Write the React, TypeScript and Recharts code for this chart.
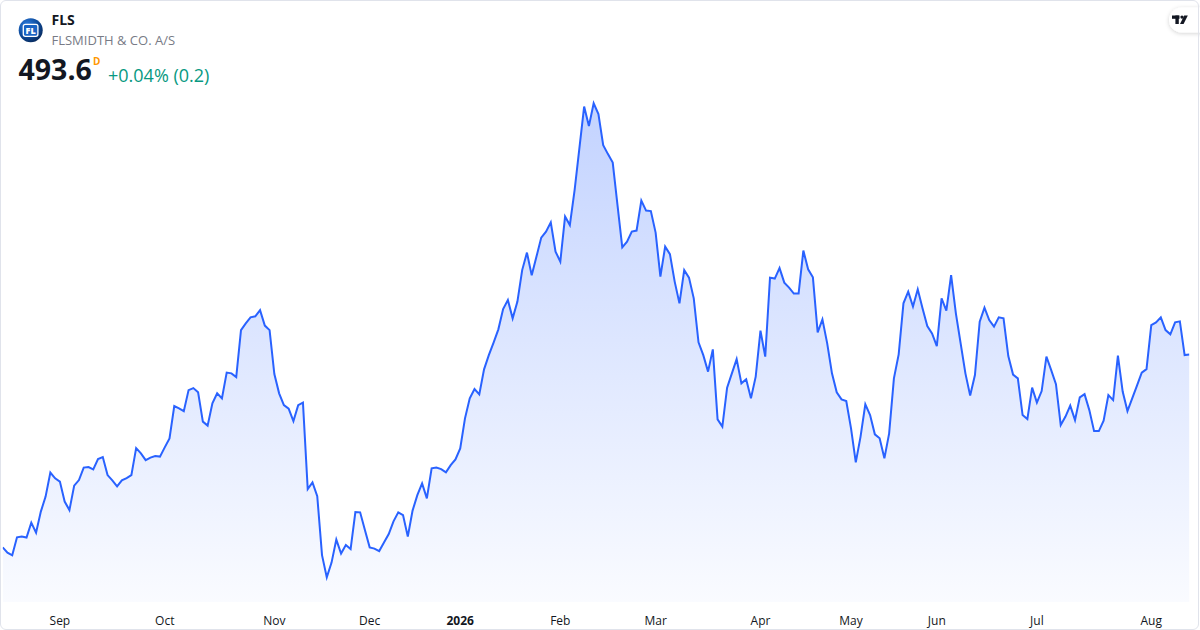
import React from "react";
import { AreaChart, Area, XAxis, YAxis } from "recharts";

const prices: number[] = [
  416.5, 414.4, 413.3, 420.5, 420.8, 420.4, 426.4, 422.4, 430.8, 436.8,
  446.4, 444.1, 442.8, 434.8, 431.4, 441.2, 443.4, 448.4, 448.6, 447.7,
  451.8, 452.6, 445.4, 443.3, 440.9, 443.3, 444.2, 445.4, 456.2, 454.1,
  451.4, 452.4, 453.0, 452.8, 456.5, 460.1, 473.0, 472.1, 471.0, 479.4,
  480.2, 478.5, 466.8, 465.2, 474.1, 478.1, 476.1, 486.4, 486.1, 484.6,
  503.4, 506.1, 508.5, 508.9, 511.4, 505.2, 503.4, 485.8, 478.1, 473.4,
  472.0, 467.0, 473.4, 474.4, 439.8, 442.5, 437.0, 413.4, 404.5, 410.4,
  419.6, 414.0, 417.4, 415.8, 430.6, 430.5, 423.4, 416.5, 416.0, 415.0,
  418.4, 421.8, 426.9, 430.5, 429.4, 420.8, 431.2, 437.4, 442.1, 436.1,
  448.1, 448.4, 447.8, 446.5, 449.4, 451.7, 456.1, 468.1, 476.1, 479.8,
  477.7, 487.7, 493.4, 498.4, 503.7, 511.8, 515.4, 508.1, 514.8, 527.4,
  534.4, 525.3, 532.8, 540.4, 542.8, 546.5, 534.8, 530.8, 548.8, 545.4,
  559.4, 576.1, 592.8, 585.0, 594.1, 589.8, 577.4, 573.8, 570.4, 553.4,
  536.5, 538.8, 542.8, 543.2, 555.2, 551.2, 551.0, 542.4, 524.8, 536.8,
  533.8, 522.8, 514.1, 527.4, 524.4, 516.1, 498.5, 493.4, 486.8, 495.7,
  467.7, 464.8, 480.4, 486.1, 491.8, 482.1, 483.7, 476.1, 484.8, 503.2,
  492.8, 524.4, 524.0, 528.2, 522.4, 520.4, 518.0, 518.0, 535.2, 527.7,
  524.5, 502.5, 507.7, 498.1, 486.1, 478.5, 475.7, 475.0, 464.1, 450.5,
  460.8, 473.7, 469.4, 461.7, 460.1, 452.1, 462.1, 484.1, 493.7, 514.1,
  518.8, 512.8, 519.7, 512.1, 505.0, 502.1, 497.0, 516.1, 511.2, 525.4,
  510.1, 498.1, 486.1, 477.2, 485.4, 506.8, 512.4, 507.4, 504.8, 508.5,
  508.1, 493.0, 485.6, 484.1, 469.4, 467.8, 480.4, 474.4, 479.0, 492.8,
  487.4, 481.8, 465.4, 468.8, 473.2, 467.4, 476.5, 477.8, 471.4, 463.0,
  463.0, 467.2, 477.4, 475.4, 493.2, 478.8, 471.0, 476.1, 481.2, 486.4,
  487.8, 505.4, 506.5, 508.5, 503.4, 501.7, 506.5, 506.9, 493.4, 493.6,
];

const monthTickIndex: number[] = [12, 34, 57, 77, 96, 117, 137, 159, 178, 196, 217, 241];
const monthTickLabels: string[] = ["Sep", "Oct", "Nov", "Dec", "2026", "Feb", "Mar", "Apr", "May", "Jun", "Jul", "Aug"];
const boldTickLabels: string[] = ["2026"];

const symbol = "FLS";
const companyName = "FLSMIDTH & CO. A/S";
const lastPrice = "493.6";
const changeText = "+0.04% (0.2)";
const intervalLabel = "D";

const data = prices.map((v, i) => ({ i, v }));

const FONT = "'Open Sans', 'Noto Sans', sans-serif";

function MonthTick(props: any) {
  const { x, y, payload } = props;
  const idx = monthTickIndex.indexOf(payload.value);
  const label = idx >= 0 ? monthTickLabels[idx] : String(payload.value);
  const bold = boldTickLabels.includes(label);
  return (
    <text
      x={x}
      y={y}
      dy={23}
      textAnchor="middle"
      fill="#131722"
      fontSize={12}
      fontFamily={FONT}
      fontWeight={bold ? 700 : 400}
    >
      {label}
    </text>
  );
}

export default function App() {
  return (
    <div style={{ position: "fixed", left: 0, top: 0, width: 1200, height: 630, background: "#ffffff", overflow: "hidden" }}>
      <div style={{ position: "absolute", left: 0, top: 0 }}>
        <AreaChart width={1200} height={630} data={data} margin={{ top: 0, right: 10.6, bottom: 0, left: 2.7 }}>
          <defs>
            <linearGradient id="flsFill" x1="0" y1="0" x2="0" y2="1">
              <stop offset="0%" stopColor="#2962ff" stopOpacity={0.28} />
              <stop offset="100%" stopColor="#2962ff" stopOpacity={0.025} />
            </linearGradient>
          </defs>
          <XAxis
            dataKey="i"
            type="number"
            domain={[0, 249]}
            ticks={monthTickIndex}
            interval={0}
            height={28}
            axisLine={false}
            tickLine={false}
            tickSize={0}
            tickMargin={0}
            tick={<MonthTick />}
            allowDataOverflow
          />
          <YAxis hide domain={[394.64, 635.44]} allowDataOverflow />
          <Area
            type="linear"
            dataKey="v"
            stroke="#2962ff"
            strokeWidth={2}
            fill="url(#flsFill)"
            fillOpacity={1}
            dot={false}
            activeDot={false}
            isAnimationActive={false}
          />
        </AreaChart>
      </div>
      <svg width={1200} height={630} style={{ position: "absolute", left: 0, top: 0, pointerEvents: "none" }}>
        <defs>
          <radialGradient id="logoGrad" cx="35%" cy="30%" r="75%">
            <stop offset="0%" stopColor="#2f7fe0" />
            <stop offset="60%" stopColor="#0d4c9e" />
            <stop offset="100%" stopColor="#082a5c" />
          </radialGradient>
          <filter id="badgeShadow" x="-50%" y="-50%" width="200%" height="200%">
            <feDropShadow dx="0" dy="1" stdDeviation="2" floodColor="#000000" floodOpacity="0.18" />
          </filter>
        </defs>
        <circle cx={30.7} cy={30.3} r={12} fill="url(#logoGrad)" />
        <rect x={23.3} y={24.3} width={14.6} height={12} rx={2} fill="#1a64c4" stroke="#ffffff" strokeWidth={1.3} />
        <text x={30.6} y={34.3} textAnchor="middle" fill="#ffffff" fontSize={9} fontWeight={800} fontFamily={FONT}>FL</text>
        <text x={51.5} y={25.3} fill="#131722" fontSize={14} fontWeight={700} fontFamily={FONT}>{symbol}</text>
        <text x={51.5} y={44.7} fill="#787b86" fontSize={13} fontFamily={FONT}>{companyName}</text>
        <text x={18.5} y={79.7} fill="#131722" fontSize={28.5} fontWeight={700} fontFamily={FONT}>{lastPrice}</text>
        <text x={93} y={64.6} fill="#ff9800" fontSize={10} fontWeight={700} fontFamily={FONT}>{intervalLabel}</text>
        <text x={108} y={81.7} fill="#089981" fontSize={18} fontFamily={FONT}>{changeText}</text>
        <rect x={1169} y={7.5} width={44} height={25} rx={12.5} fill="#ffffff" filter="url(#badgeShadow)" />
        <rect x={1172} y={15.5} width={7.5} height={3.3} fill="#131722" />
        <rect x={1175.4} y={15.5} width={3.4} height={8.5} fill="#131722" />
        <circle cx={1182} cy={17.1} r={1.65} fill="#131722" />
        <polygon points="1184.2,15.5 1187.8,15.5 1183.6,24 1180,24" fill="#131722" />
      </svg>
      <div
        style={{
          position: "absolute",
          left: 0,
          top: 0,
          width: 1199,
          height: 630,
          boxSizing: "border-box",
          border: "1px solid #e0e3eb",
          borderRadius: 6,
          pointerEvents: "none",
        }}
      />
    </div>
  );
}
